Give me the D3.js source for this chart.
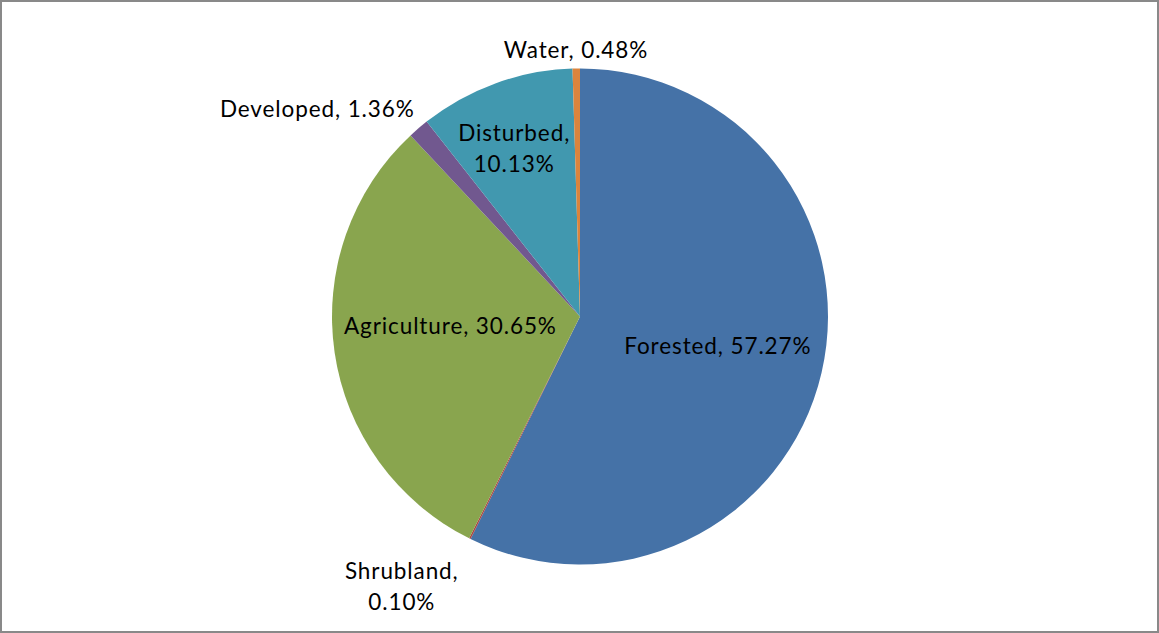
<!DOCTYPE html>
<html><head><meta charset="utf-8">
<script src="https://cdn.jsdelivr.net/npm/d3@7"></script>
<style>body{margin:0;background:#fff}svg{display:block}</style>
</head><body>
<script>
const categories = ["Forested", "Shrubland", "Agriculture", "Developed", "Disturbed", "Water"];
const values = [57.27, 0.10, 30.65, 1.36, 10.13, 0.48];
const colors = ["#4572A7", "#AA4643", "#89A54E", "#71588F", "#4198AF", "#DB843D"];

const W = 1159, H = 633;
const cx = 580, cy = 316.5, R = 248;
// label placement: radius, angle nudge (deg), lines
const labelCfg = {
  "Forested": {r: 141, da: -1, lines: ["Forested, 57.27%"]},
  "Shrubland": {r: 324, da: 7, lines: ["Shrubland,", "0.10%"]},
  "Agriculture": {r: 130, da: 4, lines: ["Agriculture, 30.65%"]},
  "Developed": {r: 335, da: -11, lines: ["Developed, 1.36%"]},
  "Disturbed": {r: 180, da: -1.5, lines: ["Disturbed,", "10.13%"]},
  "Water": {r: 266, da: 0, lines: ["Water, 0.48%"]}
};

const svg = d3.select("body").append("svg").attr("width", W).attr("height", H);
svg.append("rect").attr("x", 1).attr("y", 1).attr("width", W - 2).attr("height", H - 2)
  .attr("fill", "#fff").attr("stroke", "#898989").attr("stroke-width", 2);

const data = categories.map((c, i) => ({name: c, value: values[i], color: colors[i]}));
const pie = d3.pie().sort(null).value(d => d.value).startAngle(0).endAngle(2 * Math.PI);
const arc = d3.arc().innerRadius(0).outerRadius(R);
const arcs = pie(data);

const g = svg.append("g").attr("transform", `translate(${cx},${cy})`);
g.selectAll("path").data(arcs).join("path")
  .attr("d", arc).attr("fill", d => d.data.color);

const fs = 22.5, lh = 31;
arcs.forEach(a => {
  const cfg = labelCfg[a.data.name];
  const mid = (a.startAngle + a.endAngle) / 2 + cfg.da * Math.PI / 180;
  const x = Math.sin(mid) * cfg.r, y = -Math.cos(mid) * cfg.r;
  const n = cfg.lines.length;
  const t = g.append("text").attr("text-anchor", "middle")
    .attr("font-family", "Lato, 'Open Sans', sans-serif").attr("font-size", fs)
    .attr("letter-spacing", "0.9px").attr("fill", "#000");
  cfg.lines.forEach((l, i) => {
    t.append("tspan").attr("x", x).attr("y", y + (i - (n - 1) / 2) * lh).attr("dy", "0.35em").text(l);
  });
});
</script>
</body></html>
